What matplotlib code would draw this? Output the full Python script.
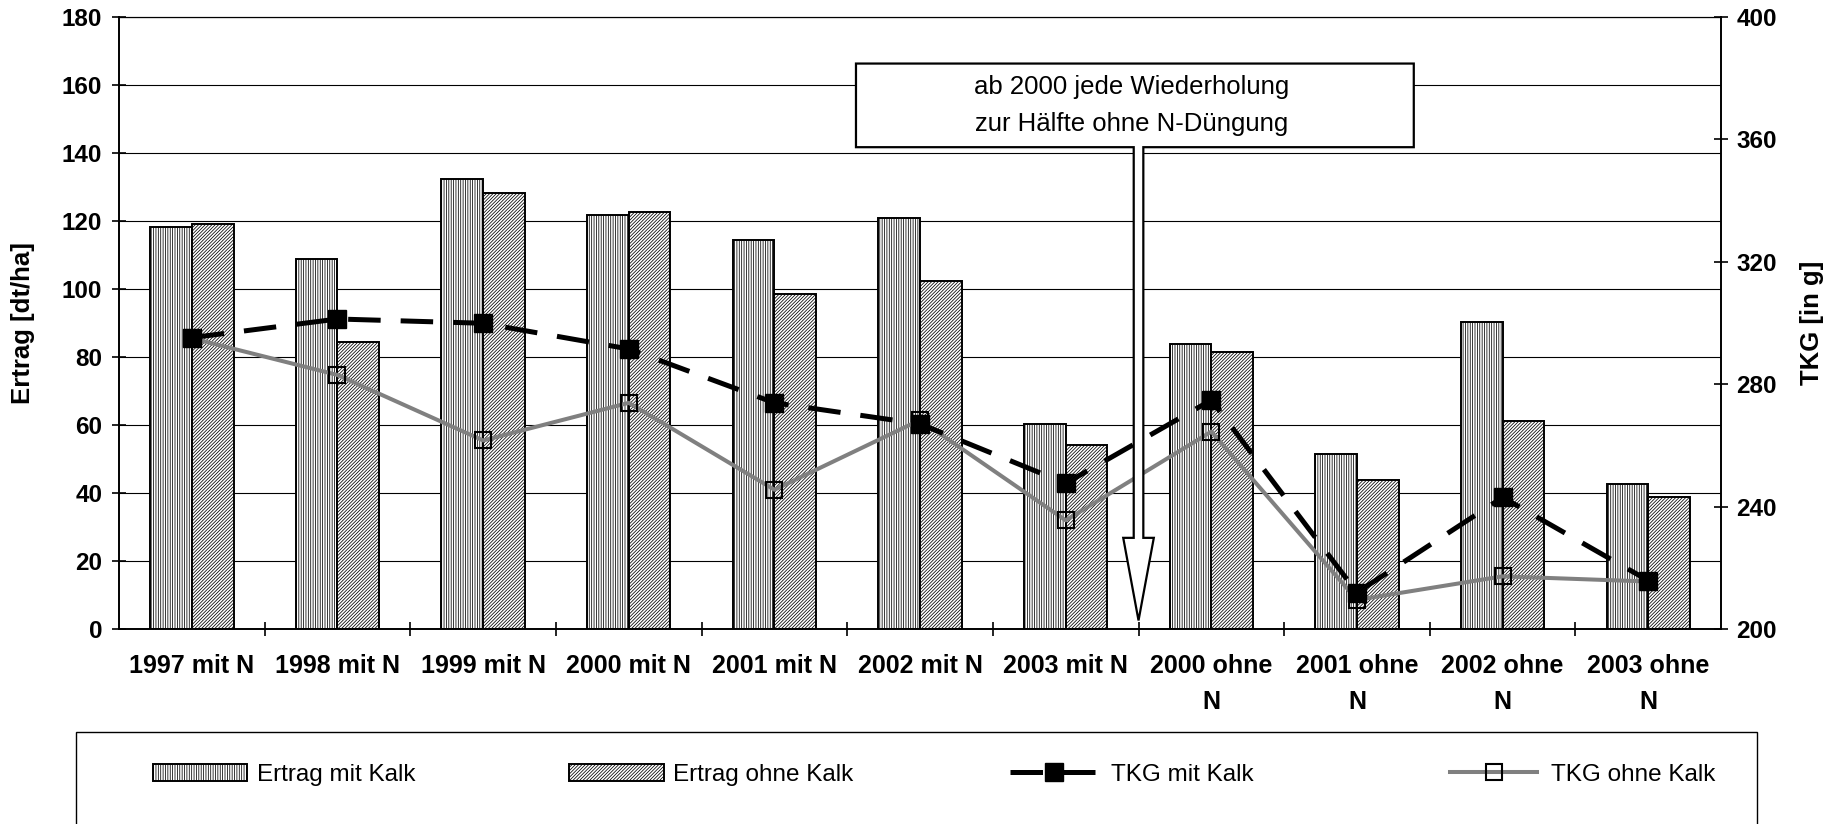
import numpy as np
import matplotlib.pyplot as plt
from matplotlib.patches import Polygon, Rectangle

plt.rcParams['font.family'] = ['Liberation Sans', 'DejaVu Sans']
plt.rcParams['hatch.linewidth'] = 0.55

# Versuchsjahre / Varianten
categories = ['1997 mit N', '1998 mit N', '1999 mit N', '2000 mit N',
              '2001 mit N', '2002 mit N', '2003 mit N', '2000 ohne\nN',
              '2001 ohne\nN', '2002 ohne\nN', '2003 ohne\nN']

# Ertrag in dt/ha
ertrag_mit_kalk = [118.3, 108.8, 132.3, 121.9, 114.4, 120.9, 60.3, 83.7, 51.4, 90.3, 42.7]
ertrag_ohne_kalk = [119.0, 84.5, 128.1, 122.6, 98.5, 102.4, 54.2, 81.6, 43.7, 61.3, 38.7]

# Tausendkorngewicht in g
tkg_mit_kalk = [295.2, 301.3, 299.9, 291.5, 273.9, 267.0, 247.6, 274.8, 211.9, 243.0, 215.8]
tkg_ohne_kalk = [295.0, 283.0, 261.6, 273.9, 245.5, 268.3, 235.5, 264.5, 209.5, 217.2, 215.5]

left_ticks = np.arange(0, 181, 20)
right_ticks = np.arange(200, 401, 40)

note = 'ab 2000 jede Wiederholung\nzur Hälfte ohne N-Düngung'

FS = 17.5
x = np.arange(len(categories))
bw = 0.286

fig = plt.figure(figsize=(18.37, 8.24), dpi=100)
ax = fig.add_axes([0.0648, 0.2367, 0.8721, 0.7427])
ax2 = ax.twinx()

# Balken: Ertrag
b1 = ax.bar(x - bw / 2, ertrag_mit_kalk, bw, facecolor='white', edgecolor='black',
            linewidth=1.4, hatch='|' * 7, label='Ertrag mit Kalk', zorder=2)
b2 = ax.bar(x + bw / 2, ertrag_ohne_kalk, bw, facecolor='white', edgecolor='black',
            linewidth=1.4, hatch='/' * 10, label='Ertrag ohne Kalk', zorder=2)

ax.set_xlim(-0.5, len(categories) - 0.5)
ax.set_ylim(0, 180)
ax.set_yticks(left_ticks)
ax.set_axisbelow(True)
ax.yaxis.grid(True, color='black', linewidth=0.8)

ax.set_xticks(x)
ax.set_xticklabels(categories, fontsize=FS + 0.5, fontweight='bold', linespacing=1.65)
ax.set_xticks(np.arange(0.5, len(categories) - 1, 1), minor=True)
ax.tick_params(axis='x', which='major', length=0, pad=18)
ax.tick_params(axis='x', which='minor', direction='inout', length=10, width=1.2)
ax.tick_params(axis='y', direction='inout', length=10, width=1.2, pad=7,
               labelsize=FS)
for lab in ax.get_yticklabels():
    lab.set_fontweight('bold')

# Linien: TKG
l2, = ax2.plot(x, tkg_ohne_kalk, color='#808080', linewidth=2.9, marker='s',
               markersize=12, markerfacecolor='none', markeredgecolor='black',
               markeredgewidth=1.5, label='TKG ohne Kalk', zorder=3)
l1, = ax2.plot(x, tkg_mit_kalk, color='black', linewidth=3.6, dashes=(6.5, 4),
               dash_capstyle='butt', marker='s', markersize=13,
               markerfacecolor='black', markeredgecolor='black',
               label='TKG mit Kalk', zorder=4)

ax2.set_ylim(200, 400)
ax2.set_yticks(right_ticks)
ax2.tick_params(axis='y', direction='inout', length=10, width=1.2, pad=6,
                labelsize=FS)
for lab in ax2.get_yticklabels():
    lab.set_fontweight('bold')

for a in (ax, ax2):
    for s in ('left', 'right', 'bottom'):
        a.spines[s].set_linewidth(1.2)
    a.spines['top'].set_linewidth(0.8)

ax.set_ylabel('Ertrag [dt/ha]', fontsize=18.5, fontweight='bold')
ax.yaxis.set_label_coords(-0.0524, 0.5)
ax2.set_ylabel('TKG [in g]', fontsize=18.5, fontweight='bold', rotation=90)
ax2.yaxis.set_label_coords(1.049, 0.5)

# Hinweiskasten mit Pfeil zwischen den Varianten mit und ohne N
bx0, bx1, by0, by1 = 4.56, 8.39, 141.7, 166.3
ax_c, shaft, head, head_y, tip_y = 6.5, 0.033, 0.105, 26.8, 2.5
callout = [(bx0, by1), (bx1, by1), (bx1, by0), (ax_c + shaft, by0),
           (ax_c + shaft, head_y), (ax_c + head, head_y), (ax_c, tip_y),
           (ax_c - head, head_y), (ax_c - shaft, head_y), (ax_c - shaft, by0),
           (bx0, by0)]
ax2.add_patch(Polygon(callout, closed=True, facecolor='white', edgecolor='black',
                      linewidth=1.6, transform=ax.transData, zorder=10))
ax2.text(6.45, (by0 + by1) / 2, note, transform=ax.transData, ha='center',
         va='center', fontsize=18.5, linespacing=1.7, zorder=11)

# Legende unten im Rahmen
fig.add_artist(Rectangle((76 / 1837, -0.01), (1757 - 76) / 1837, 0.1217,
                         transform=fig.transFigure, facecolor='none',
                         edgecolor='black', linewidth=1))
entries = [(b1, 'Ertrag mit Kalk', 0.0831, 3.9, 0.4),
           (b2, 'Ertrag ohne Kalk', 0.3096, 3.9, 0.4),
           (l1, 'TKG mit Kalk', 0.5498, 3.6, 0.55),
           (l2, 'TKG ohne Kalk', 0.7893, 3.6, 0.55)]
for h, lab, lx, hl, tp in entries:
    fig.legend([h], [lab], loc='center left', bbox_to_anchor=(lx, 0.0595),
               frameon=False, borderpad=0, borderaxespad=0, handlelength=hl,
               handletextpad=tp, fontsize=FS, numpoints=1)

fig.savefig('out.png', dpi=100)
